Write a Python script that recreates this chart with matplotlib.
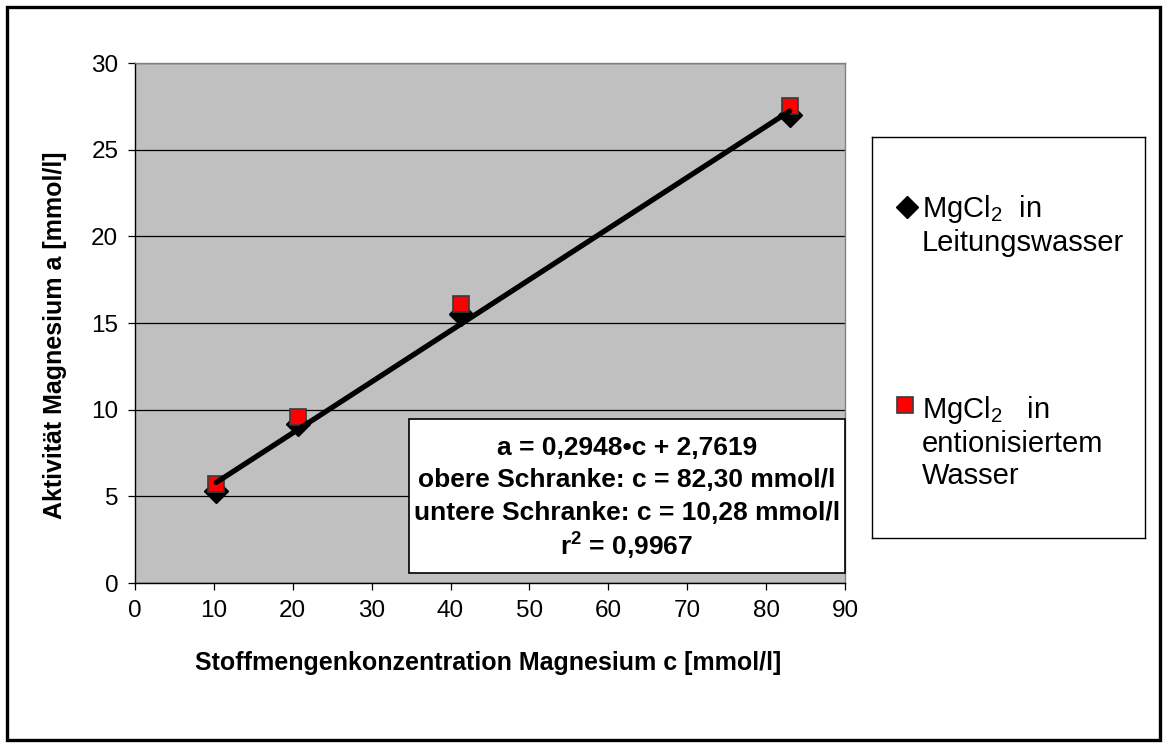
import matplotlib
matplotlib.use("Agg")
import matplotlib.pyplot as plt
from matplotlib.patches import Rectangle
import numpy as np

plt.rcParams['font.family'] = ['Liberation Sans', 'DejaVu Sans']
plt.rcParams['mathtext.fontset'] = 'custom'
plt.rcParams['mathtext.rm'] = 'Liberation Sans'
plt.rcParams['mathtext.bf'] = 'Liberation Sans:bold'
plt.rcParams['mathtext.default'] = 'rm'

# ── data ──────────────────────────────────────────────────
conc = [10.3, 20.6, 41.3, 83.0]          # c [mmol/l]
act_leitung = [5.3, 9.2, 15.5, 27.0]     # MgCl2 in Leitungswasser
act_ention = [5.7, 9.6, 16.1, 27.5]      # MgCl2 in entionisiertem Wasser
slope, intercept = 0.2948, 2.7619        # trendline a = 0,2948*c + 2,7619
x_ticks = list(range(0, 91, 10))
y_ticks = list(range(0, 31, 5))

W, H = 1167, 747
fig = plt.figure(figsize=(W / 100, H / 100), dpi=100)
fig.patch.set_facecolor('white')

def fx(px):
    return px / W

def fy(py):
    return 1 - py / H

# outer chart border
fig.add_artist(Rectangle((fx(7), fy(740)), fx(1160) - fx(7), fy(7) - fy(740),
                         transform=fig.transFigure, fill=False,
                         edgecolor='black', linewidth=2.4))

ax = fig.add_axes([fx(135), fy(583), fx(845) - fx(135), fy(63) - fy(583)])
ax.set_facecolor('#C0C0C0')
ax.set_xlim(0, 90)
ax.set_ylim(0, 30)
ax.set_xticks(x_ticks)
ax.set_yticks(y_ticks)
ax.tick_params(direction='out', length=5, width=0.9, labelsize=17.5,
               colors='black')
ax.tick_params(axis='y', pad=7)
ax.tick_params(axis='x', pad=7)
ax.yaxis.grid(True, color='black', linewidth=0.9)
ax.set_axisbelow(True)
for s in ['left', 'bottom']:
    ax.spines[s].set_color('black')
    ax.spines[s].set_linewidth(1.0)
for s in ['top', 'right']:
    ax.spines[s].set_color('#808080')
    ax.spines[s].set_linewidth(1.0)

ax.plot(conc, act_leitung, linestyle='none', marker='D', markersize=12,
        color='black', zorder=3)
ax.plot(conc, act_ention, linestyle='none', marker='s', markersize=11.5,
        markerfacecolor='#FF0000', markeredgecolor='#3a3a3a',
        markeredgewidth=1.2, zorder=4)
xfit = np.array([conc[0], conc[-1]])
ax.plot(xfit, slope * xfit + intercept, color='black', linewidth=3.8,
        solid_capstyle='round', zorder=5)

fig.text(fx(488), fy(663), 'Stoffmengenkonzentration Magnesium c [mmol/l]',
         ha='center', va='center', fontsize=18, fontweight='bold')
fig.text(fx(55), fy(335), 'Aktivität Magnesium a [mmol/l]',
         ha='center', va='center', rotation=90, fontsize=18,
         fontweight='bold')

# equation box
fig.add_artist(Rectangle((fx(409), fy(573)), fx(845) - fx(409),
                         fy(419) - fy(573), transform=fig.transFigure,
                         facecolor='white', edgecolor='black',
                         linewidth=1.2, zorder=6))
box_lines = ['a = 0,2948•c + 2,7619',
             'obere Schranke: c = 82,30 mmol/l',
             'untere Schranke: c = 10,28 mmol/l',
             r'r$^\mathbf{2}$ = 0,9967']
for line, py in zip(box_lines, [448, 480, 513, 546]):
    fig.text(fx(627), fy(py), line, ha='center', va='center',
             fontsize=19, fontweight='bold', zorder=7)

# legend
lax = fig.add_axes([fx(872), fy(538), fx(1145) - fx(872), fy(137) - fy(538)])
lax.set_xlim(872, 1145)
lax.set_ylim(538, 137)
lax.set_xticks([])
lax.set_yticks([])
for s in lax.spines.values():
    s.set_linewidth(1.0)
    s.set_color('black')
lax.plot([907], [207], marker='D', markersize=11, color='black')
lax.plot([905], [405], marker='s', markersize=11, markerfacecolor='#FF0000',
         markeredgecolor='#3a3a3a', markeredgewidth=1.2)
lax.text(922, 225, 'MgCl$_2$  in\nLeitungswasser', ha='left', va='center',
         fontsize=21, linespacing=1.2)
lax.text(922, 442, 'MgCl$_2$   in\nentionisiertem\nWasser', ha='left',
         va='center', fontsize=21, linespacing=1.2)

fig.savefig('out.png', dpi=100, facecolor='white')
